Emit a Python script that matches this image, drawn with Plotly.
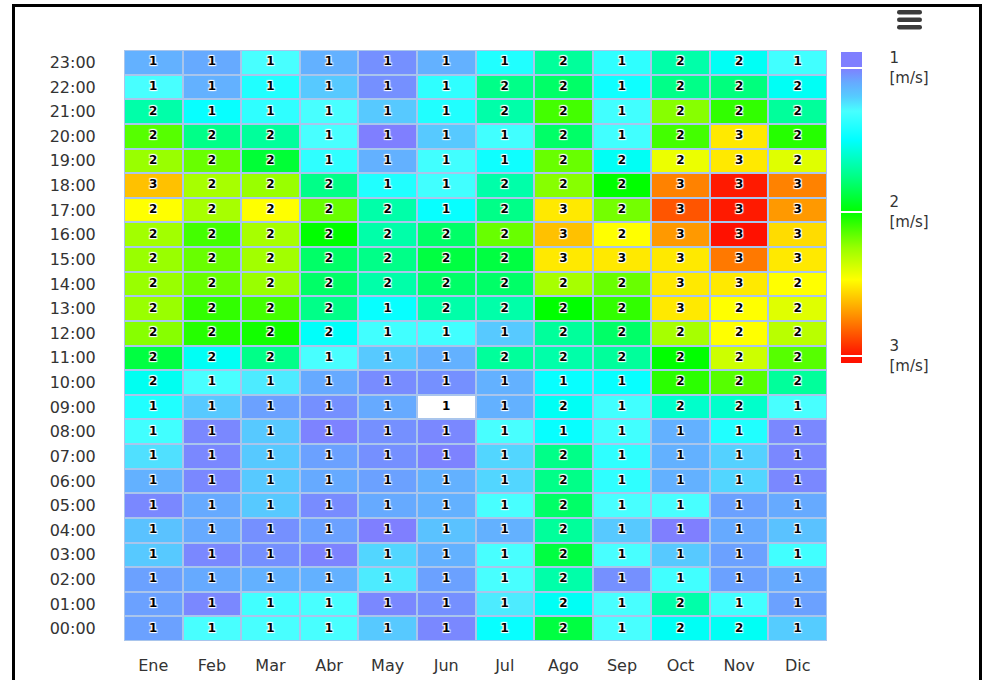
import plotly.graph_objects as go

# ---------------- data ----------------
months = ["Ene", "Feb", "Mar", "Abr", "May", "Jun", "Jul", "Ago", "Sep", "Oct", "Nov", "Dic"]
hours = ["00:00", "01:00", "02:00", "03:00", "04:00", "05:00", "06:00", "07:00",
         "08:00", "09:00", "10:00", "11:00", "12:00", "13:00", "14:00", "15:00",
         "16:00", "17:00", "18:00", "19:00", "20:00", "21:00", "22:00", "23:00"]

# mean wind speed [m/s] per hour (00:00 -> 23:00) for each month
ene = [1.08, 1.08, 1.08, 1.19, 1.17, 1.02, 1.12, 1.24, 1.32, 1.41, 1.53, 1.88, 2.22, 2.25, 2.25, 2.25, 2.27, 2.47, 2.61, 2.25, 2.14, 1.68, 1.30, 1.12]
feb = [1.30, 1.02, 1.10, 1.02, 1.10, 1.10, 1.02, 1.02, 1.02, 1.19, 1.30, 1.52, 2.06, 2.08, 2.17, 2.17, 2.11, 2.28, 2.28, 2.17, 1.75, 1.48, 1.12, 1.10]
mar = [1.30, 1.32, 1.12, 1.04, 1.04, 1.19, 1.19, 1.19, 1.19, 1.08, 1.26, 1.75, 2.03, 2.11, 2.25, 2.27, 2.28, 2.47, 2.25, 1.90, 1.71, 1.37, 1.41, 1.30]
abr = [1.30, 1.30, 1.12, 1.01, 1.08, 1.03, 1.10, 1.08, 1.01, 1.04, 1.10, 1.30, 1.51, 1.75, 1.81, 1.81, 2.00, 2.17, 1.75, 1.37, 1.30, 1.30, 1.19, 1.12]
may = [1.19, 1.02, 1.26, 1.22, 1.00, 1.10, 1.08, 1.04, 1.04, 1.10, 1.03, 1.19, 1.32, 1.48, 1.68, 1.75, 1.68, 1.68, 1.41, 1.12, 1.00, 1.19, 1.04, 1.04]
jun = [1.02, 1.04, 1.08, 1.12, 1.17, 1.12, 1.12, 1.01, 1.02, 0.80, 1.04, 1.12, 1.32, 1.68, 1.81, 1.88, 1.81, 1.48, 1.32, 1.32, 1.19, 1.41, 1.37, 1.12]
jul = [1.48, 1.26, 1.30, 1.30, 1.12, 1.30, 1.22, 1.22, 1.30, 1.12, 1.12, 1.71, 1.19, 1.68, 1.81, 1.88, 2.17, 1.75, 1.68, 1.46, 1.32, 1.68, 1.75, 1.41]
ago = [1.88, 1.52, 1.68, 1.88, 1.71, 1.81, 1.75, 1.75, 1.48, 1.52, 1.48, 1.68, 1.71, 2.00, 2.28, 2.52, 2.61, 2.52, 2.22, 2.17, 1.81, 2.11, 1.81, 1.71]
sep = [1.30, 1.30, 1.04, 1.30, 1.19, 1.30, 1.37, 1.37, 1.32, 1.32, 1.48, 1.71, 1.81, 2.08, 2.17, 2.52, 2.47, 2.19, 2.00, 1.52, 1.32, 1.32, 1.46, 1.37]
oct_ = [1.52, 1.68, 1.32, 1.19, 1.00, 1.30, 1.12, 1.12, 1.12, 1.61, 2.07, 2.00, 2.28, 2.52, 2.52, 2.52, 2.70, 2.85, 2.75, 2.43, 2.11, 2.22, 1.75, 1.68]
nov = [1.52, 1.32, 1.08, 1.08, 1.10, 1.08, 1.22, 1.21, 1.41, 1.61, 2.14, 2.36, 2.47, 2.47, 2.52, 2.77, 3.00, 2.98, 2.98, 2.52, 2.52, 2.08, 1.77, 1.52]
dic = [1.20, 1.08, 1.10, 1.32, 1.17, 1.10, 1.02, 1.02, 1.02, 1.30, 1.71, 2.14, 2.32, 2.40, 2.47, 2.52, 2.55, 2.70, 2.75, 2.40, 2.06, 1.71, 1.52, 1.32]

cbar_ticks = [1, 2, 3]
cbar_unit = "[m/s]"

# ---------------- layout helpers ----------------
W, H = 984, 680
L, R, T, B = 124, 157, 50, 39
PW, PH = W - L - R, H - T - B


def px_x(x):
    return (x - L) / PW


def px_y(y):
    return (H - B - y) / PH


series = [ene, feb, mar, abr, may, jun, jul, ago, sep, oct_, nov, dic]
z = [[series[m][h] for m in range(len(months))] for h in range(len(hours))]

ZMIN, ZMAX = 0.889, 3.049
stops = [(0.889, "#7f7fff"), (1.0, "#7f7fff"), (1.1, "#66aaff"), (1.2, "#55ccff"),
         (1.3, "#48ffff"), (1.5, "#00ffff"), (1.75, "#00ff88"), (2.0, "#00ff00"),
         (2.25, "#99ff00"), (2.47, "#ffff00"), (2.7, "#ff9900"), (3.0, "#ff1100"),
         (3.049, "#ff1100")]
# colorbar is drawn reversed (1 at top): colour on negated values
cscale = sorted([[(ZMAX - v) / (ZMAX - ZMIN), c] for v, c in stops], key=lambda s: s[0])
cscale[0][0] = 0.0
cscale[-1][0] = 1.0

z_neg = [[-v for v in row] for row in z]
z_low = [[1 if v < ZMIN else None for v in row] for row in z]

fig = go.Figure()
fig.add_trace(go.Heatmap(
    x=months, y=hours, z=z_neg, zmin=-ZMAX, zmax=-ZMIN,
    colorscale=cscale, xgap=2, ygap=2, hoverinfo="skip",
    colorbar=dict(
        x=px_x(841), xanchor="left", xpad=0,
        y=px_y(52), yanchor="top", ypad=0,
        len=311, lenmode="pixels", thickness=21, thicknessmode="pixels",
        outlinewidth=0,
        tickvals=[-t for t in cbar_ticks],
        ticktext=[f"{t}<br>{cbar_unit}" for t in cbar_ticks],
        ticks="outside", ticklen=25, tickcolor="rgba(0,0,0,0)",
        tickfont=dict(family="DejaVu Sans", size=15, color="#333333"),
    ),
))
fig.add_trace(go.Heatmap(
    x=months, y=hours, z=z_low, zmin=0, zmax=1,
    colorscale=[[0, "#ffffff"], [1, "#ffffff"]], showscale=False,
    xgap=2, ygap=2, hoverinfo="skip",
))

tx, ty, tt = [], [], []
for h, hr in enumerate(hours):
    for m, mo in enumerate(months):
        tx.append(mo)
        ty.append(hr)
        tt.append(str(int(z[h][m] + 0.5)))

fig.add_trace(go.Scatter(
    x=tx, y=ty, text=tt, mode="text", hoverinfo="skip", showlegend=False,
    textfont=dict(family="DejaVu Sans", size=12, color="#000000", weight="bold",
                  shadow="1px 1px 1px #fff, -1px -1px 1px #fff, 1px -1px 1px #fff, -1px 1px 1px #fff"),
))

shapes = []
# outer frame
shapes.append(dict(type="rect", xref="paper", yref="paper",
                   x0=px_x(13.5), x1=px_x(980.5), y0=px_y(700), y1=px_y(5.5),
                   line=dict(color="#000000", width=3), fillcolor="rgba(0,0,0,0)"))
# export menu icon (three rounded bars)
for y0 in (10, 17.5, 25):
    x0, x1, y1, r = 897, 922, y0 + 4.5, 2.2
    pts = (f"M {px_x(x0 + r)},{px_y(y0)} L {px_x(x1 - r)},{px_y(y0)} "
           f"Q {px_x(x1)},{px_y(y0)} {px_x(x1)},{px_y(y0 + r)} "
           f"L {px_x(x1)},{px_y(y1 - r)} Q {px_x(x1)},{px_y(y1)} {px_x(x1 - r)},{px_y(y1)} "
           f"L {px_x(x0 + r)},{px_y(y1)} Q {px_x(x0)},{px_y(y1)} {px_x(x0)},{px_y(y1 - r)} "
           f"L {px_x(x0)},{px_y(y0 + r)} Q {px_x(x0)},{px_y(y0)} {px_x(x0 + r)},{px_y(y0)} Z")
    shapes.append(dict(type="path", xref="paper", yref="paper", path=pts,
                       fillcolor="#3a3a3a", line=dict(width=0)))

# white separators across the colour bar at the ticks (annotations sit above the bar)
annotations = []
for t in cbar_ticks:
    yy = 52 + (t - ZMIN) / (ZMAX - ZMIN) * 311
    annotations.append(dict(xref="paper", yref="paper", x=px_x(851.5), y=px_y(yy),
                            xanchor="center", yanchor="middle", showarrow=False,
                            text=" ", font=dict(size=1), width=21, height=2,
                            bgcolor="#ffffff", borderpad=0, borderwidth=0))

fig.update_layout(
    width=W, height=H, autosize=False,
    margin=dict(l=L, r=R, t=T, b=B, pad=0, autoexpand=False),
    paper_bgcolor="#ffffff", plot_bgcolor="#a9c5ec",
    showlegend=False,
    shapes=shapes,
    annotations=annotations,
    xaxis=dict(type="category", categoryorder="array", categoryarray=months,
               range=[-0.5, len(months) - 0.5], automargin=False,
               showgrid=False, zeroline=False, showline=False,
               ticks="outside", ticklen=10, tickcolor="rgba(0,0,0,0)",
               tickfont=dict(family="DejaVu Sans", size=16, color="#333333"),
               fixedrange=True),
    yaxis=dict(type="category", categoryorder="array", categoryarray=hours,
               range=[-0.5, len(hours) - 0.5], automargin=False,
               showgrid=False, zeroline=False, showline=False,
               ticks="outside", ticklen=24, tickcolor="rgba(0,0,0,0)",
               tickfont=dict(family="DejaVu Sans", size=16, color="#333333"),
               fixedrange=True),
)

fig.write_html("out.html", config={"displayModeBar": False},
               post_script="document.body.style.margin='0';")
